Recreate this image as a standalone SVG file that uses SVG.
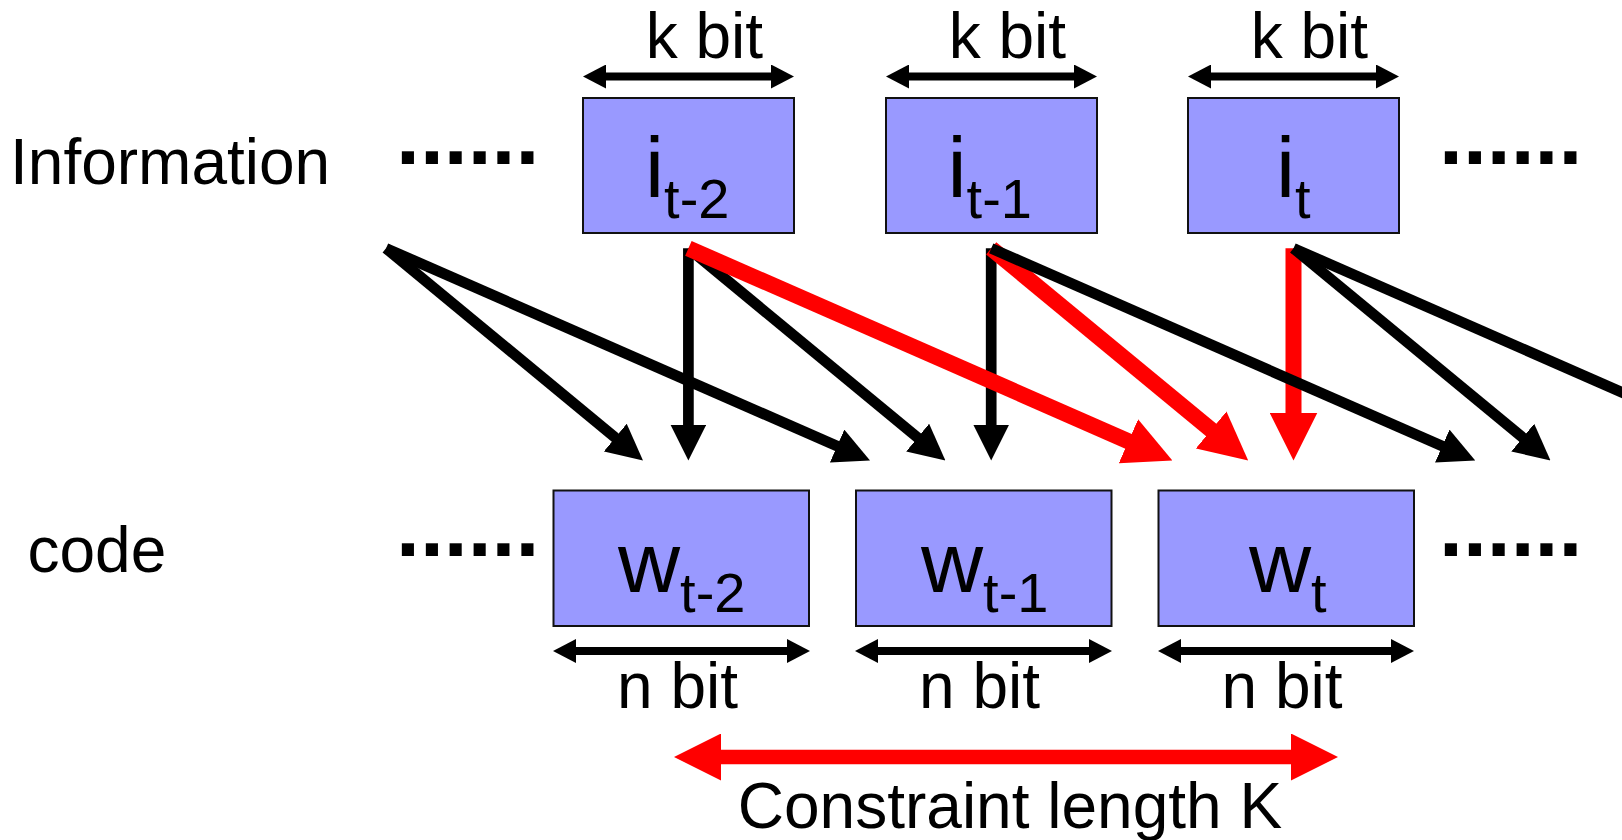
<svg xmlns="http://www.w3.org/2000/svg" width="1622" height="840" viewBox="0 0 1622 840">
<style>
text{font-family:"Liberation Sans",Arial,sans-serif;fill:#000}
.lbl{font-size:64px}
.big{font-size:86px}
.sub{font-size:56px}
.dots{font-size:86px;font-weight:bold}
.box{fill:#9999ff;stroke:#111;stroke-width:2}
.bk{stroke:#000;stroke-width:10.7;fill:none;marker-end:url(#ah)}
.rd{stroke:#ff0000;stroke-width:16;fill:none;marker-end:url(#rh)}
.dim{stroke:#000;stroke-width:8;fill:none;marker-start:url(#dh);marker-end:url(#dh)}
.cl{stroke:#ff0000;stroke-width:14.7;fill:none;marker-start:url(#ch);marker-end:url(#ch)}
</style>
<defs>
<marker id="ah" markerUnits="userSpaceOnUse" viewBox="0 0 36 36" markerWidth="36" markerHeight="36" refX="22" refY="18" orient="auto"><path d="M0,0 L36,18 L0,36 z" fill="#000"/></marker>
<marker id="rh" markerUnits="userSpaceOnUse" viewBox="0 0 48 48" markerWidth="48" markerHeight="48" refX="30" refY="24" orient="auto"><path d="M0,0 L48,24 L0,48 z" fill="#ff0000"/></marker>
<marker id="dh" markerUnits="userSpaceOnUse" viewBox="0 0 23 24" markerWidth="23" markerHeight="24" refX="13" refY="12" orient="auto-start-reverse"><path d="M0,0 L23,12 L0,24 z" fill="#000"/></marker>
<marker id="ch" markerUnits="userSpaceOnUse" viewBox="0 0 47 47" markerWidth="47" markerHeight="47" refX="27" refY="23.5" orient="auto-start-reverse"><path d="M0,0 L47,23.5 L0,47 z" fill="#ff0000"/></marker>
</defs>

<g id="row-labels">
<text class="lbl" x="10" y="184">Information</text>
<text class="lbl" x="27.5" y="572">code</text>
<text class="dots" x="396" y="163.5">......</text>
<text class="dots" x="1439" y="163.5">......</text>
<text class="dots" x="396" y="556">......</text>
<text class="dots" x="1439" y="556">......</text>
</g>

<g id="i_t-2">
<rect class="box" x="583" y="98" width="211" height="135"/>
<text x="645" y="197"><tspan class="big">i</tspan><tspan class="sub" dy="21">t-2</tspan></text>
</g>
<g id="i_t-1">
<rect class="box" x="886" y="98" width="211" height="135"/>
<text x="947.5" y="197"><tspan class="big">i</tspan><tspan class="sub" dy="21">t-1</tspan></text>
</g>
<g id="i_t">
<rect class="box" x="1188" y="98" width="211" height="135"/>
<text x="1276" y="197"><tspan class="big">i</tspan><tspan class="sub" dy="21">t</tspan></text>
</g>

<g id="w_t-2">
<rect class="box" x="553.5" y="490.5" width="255.5" height="135.5"/>
<text x="618" y="591.5"><tspan class="big">w</tspan><tspan class="sub" dy="20">t-2</tspan></text>
</g>
<g id="w_t-1">
<rect class="box" x="856" y="490.5" width="255.5" height="135.5"/>
<text x="921" y="591.5"><tspan class="big">w</tspan><tspan class="sub" dy="20">t-1</tspan></text>
</g>
<g id="w_t">
<rect class="box" x="1158.5" y="490.5" width="255.5" height="135.5"/>
<text x="1249" y="591.5"><tspan class="big">w</tspan><tspan class="sub" dy="20">t</tspan></text>
</g>

<g id="dimensions">
<line class="dim" x1="593" y1="76.5" x2="784" y2="76.5"/>
<line class="dim" x1="896" y1="76.5" x2="1087" y2="76.5"/>
<line class="dim" x1="1198" y1="76.5" x2="1389" y2="76.5"/>
<text class="lbl" x="645.7" y="58">k bit</text>
<text class="lbl" x="948.7" y="58">k bit</text>
<text class="lbl" x="1250.7" y="58">k bit</text>
<line class="dim" x1="563" y1="651" x2="800" y2="651"/>
<line class="dim" x1="865" y1="651" x2="1102" y2="651"/>
<line class="dim" x1="1168" y1="651" x2="1404" y2="651"/>
<text class="lbl" x="617" y="708">n bit</text>
<text class="lbl" x="919" y="708">n bit</text>
<text class="lbl" x="1221.5" y="708">n bit</text>
<line class="cl" x1="694" y1="757" x2="1318" y2="757"/>
<text class="lbl" x="737.8" y="828">Constraint length K</text>
</g>

<g id="connectors">
<line class="bk" x1="386" y1="248.3" x2="632.2" y2="451.6"/>
<line class="bk" x1="386" y1="248.3" x2="857.2" y2="454.9"/>
<line class="bk" x1="688.4" y1="248.3" x2="688.4" y2="446.5"/>
<line class="bk" x1="688.4" y1="248.3" x2="934.6" y2="451.6"/>
<line class="bk" x1="991.2" y1="248.3" x2="991.2" y2="446.5"/>
<line class="rd" x1="688.4" y1="248.3" x2="1155.9" y2="453.3"/>
<line class="rd" x1="991.2" y1="248.3" x2="1234.3" y2="449"/>
<line class="rd" x1="1293.5" y1="248.3" x2="1293.5" y2="442.5"/>
<line class="bk" x1="991.2" y1="248.3" x2="1462.4" y2="454.9"/>
<line class="bk" x1="1293.5" y1="248.3" x2="1539.7" y2="451.6"/>
<line class="bk" x1="1293.5" y1="248.3" x2="1764.7" y2="454.9"/>
</g>
</svg>
